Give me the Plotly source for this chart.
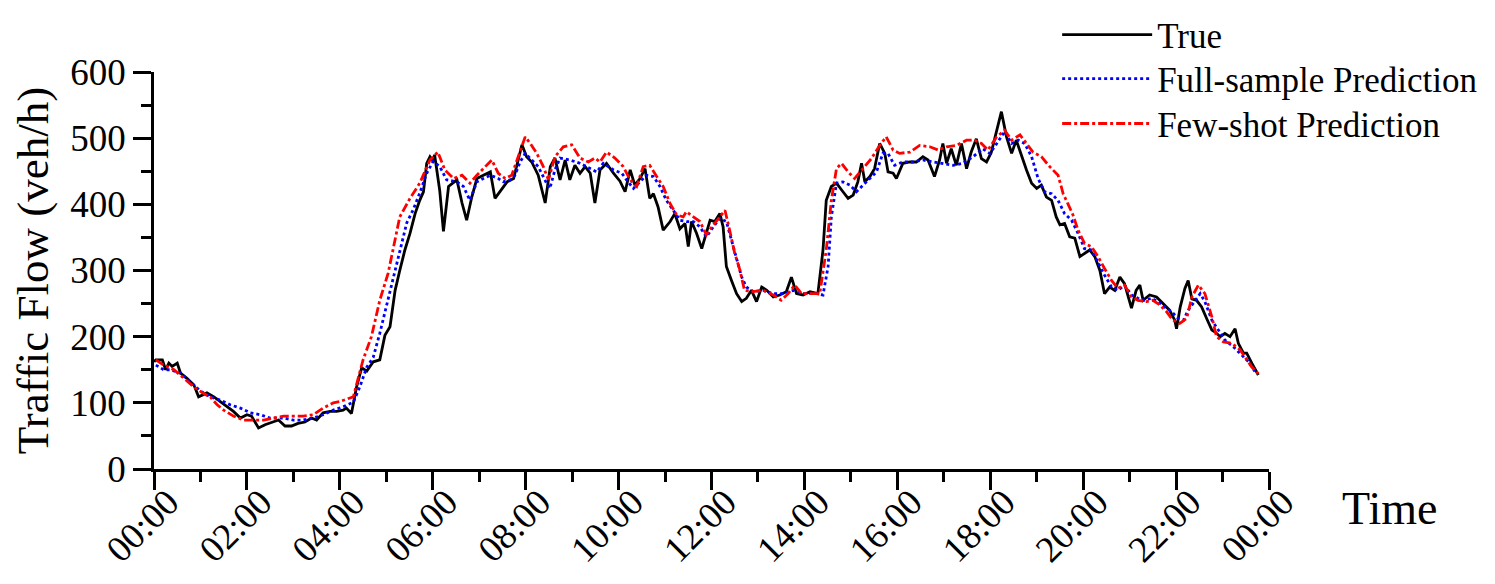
import plotly.graph_objects as go

# time of day in hours, traffic flow in veh/h
true_hour = [0.00, 0.04, 0.18, 0.25, 0.32, 0.39, 0.50, 0.57, 0.71, 0.86, 0.96, 1.14, 1.29, 1.43, 1.57,
             1.71, 1.86, 2.00, 2.10, 2.25, 2.39, 2.54, 2.68, 2.82, 2.96, 3.10, 3.25, 3.39, 3.50, 3.64,
             3.79, 3.93, 4.07, 4.14, 4.25, 4.36, 4.47, 4.58, 4.72, 4.86, 4.97, 5.08, 5.19, 5.29, 5.40,
             5.51, 5.62, 5.72, 5.80, 5.87, 5.94, 6.01, 6.04, 6.15, 6.23, 6.34, 6.52, 6.63, 6.73, 6.84,
             6.95, 7.09, 7.24, 7.34, 7.49, 7.60, 7.74, 7.84, 7.92, 8.02, 8.13, 8.27, 8.42, 8.53, 8.63,
             8.74, 8.85, 8.95, 9.06, 9.17, 9.28, 9.39, 9.49, 9.60, 9.74, 9.89, 10.03, 10.14, 10.25, 10.35,
             10.46, 10.57, 10.67, 10.75, 10.85, 10.96, 11.11, 11.21, 11.32, 11.43, 11.50, 11.57, 11.68, 11.79, 11.89,
             11.97, 12.07, 12.18, 12.25, 12.32, 12.43, 12.54, 12.65, 12.75, 12.86, 12.97, 13.08, 13.19, 13.33, 13.47,
             13.61, 13.72, 13.83, 13.97, 14.12, 14.29, 14.40, 14.47, 14.58, 14.69, 14.83, 14.94, 15.05, 15.15, 15.23,
             15.30, 15.41, 15.51, 15.62, 15.73, 15.80, 15.91, 15.98, 16.12, 16.27, 16.41, 16.55, 16.66, 16.80, 16.91,
             16.98, 17.06, 17.16, 17.27, 17.38, 17.49, 17.59, 17.70, 17.81, 17.92, 18.02, 18.14, 18.24, 18.35, 18.46,
             18.56, 18.67, 18.78, 18.89, 19.00, 19.10, 19.21, 19.32, 19.42, 19.50, 19.60, 19.71, 19.82, 19.93, 20.03,
             20.14, 20.25, 20.36, 20.46, 20.57, 20.68, 20.79, 20.89, 21.04, 21.14, 21.22, 21.29, 21.43, 21.58, 21.72,
             21.86, 21.97, 22.01, 22.09, 22.19, 22.26, 22.34, 22.44, 22.55, 22.66, 22.77, 22.84, 22.95, 23.05, 23.16,
             23.27, 23.34, 23.45, 23.52, 23.63, 23.77]
true_flow = [162, 165, 165, 150, 160, 155, 160, 145, 137, 127, 109, 115, 109, 102, 94,
             87, 77, 82, 80, 62, 67, 71, 74, 65, 65, 69, 71, 77, 74, 85,
             87, 87, 89, 92, 84, 124, 153, 148, 162, 165, 202, 215, 270, 300, 331,
             356, 386, 406, 419, 462, 472, 465, 475, 421, 359, 427, 437, 402, 376, 411,
             439, 444, 449, 409, 424, 434, 439, 467, 490, 472, 464, 444, 402, 457, 470,
             437, 467, 437, 459, 447, 457, 447, 402, 452, 462, 447, 435, 419, 452, 429,
             439, 454, 409, 416, 396, 361, 374, 386, 363, 371, 336, 374, 356, 333, 356,
             376, 374, 386, 366, 306, 285, 265, 253, 258, 270, 253, 275, 270, 260, 263,
             268, 290, 265, 263, 268, 265, 331, 406, 427, 432, 419, 409, 414, 434, 462,
             434, 442, 454, 492, 477, 449, 447, 439, 462, 464, 464, 472, 467, 442, 467,
             492, 462, 484, 459, 492, 454, 479, 499, 469, 464, 478, 512, 540, 502, 477,
             497, 474, 452, 432, 424, 429, 411, 406, 381, 369, 371, 351, 349, 321, 326,
             331, 321, 300, 265, 275, 270, 290, 280, 243, 270, 278, 255, 263, 260, 250,
             240, 225, 212, 245, 273, 285, 257, 255, 245, 227, 210, 207, 200, 205, 200,
             212, 190, 175, 175, 160, 142]

full_hour = [0.04, 0.21, 0.36, 0.57, 0.79, 1.00, 1.21, 1.43, 1.64, 1.86, 2.07, 2.29, 2.50, 2.79, 3.00,
             3.21, 3.43, 3.64, 3.86, 4.07, 4.29, 4.43, 4.58, 4.72, 4.86, 5.00, 5.15, 5.29, 5.44, 5.58,
             5.72, 5.87, 6.01, 6.15, 6.30, 6.52, 6.66, 6.80, 6.95, 7.09, 7.24, 7.41, 7.52, 7.67, 7.77,
             7.88, 7.99, 8.13, 8.27, 8.45, 8.52, 8.63, 8.74, 8.95, 9.17, 9.39, 9.53, 9.67, 9.89, 10.07,
             10.17, 10.32, 10.46, 10.60, 10.75, 10.89, 11.03, 11.18, 11.32, 11.46, 11.61, 11.75, 11.89, 12.04, 12.18,
             12.32, 12.43, 12.54, 12.65, 12.75, 12.90, 13.11, 13.33, 13.54, 13.76, 13.97, 14.19, 14.40, 14.51, 14.58,
             14.69, 14.83, 14.98, 15.12, 15.26, 15.41, 15.55, 15.69, 15.80, 15.94, 16.12, 16.34, 16.55, 16.77, 16.98,
             17.20, 17.41, 17.63, 17.84, 17.99, 18.14, 18.31, 18.46, 18.60, 18.74, 18.89, 19.03, 19.17, 19.32, 19.46,
             19.60, 19.75, 19.89, 20.03, 20.18, 20.32, 20.46, 20.61, 20.75, 20.89, 21.04, 21.18, 21.32, 21.47, 21.61,
             21.75, 21.90, 22.04, 22.16, 22.26, 22.41, 22.52, 22.62, 22.77, 22.91, 23.05, 23.23, 23.41, 23.56, 23.73]
full_flow = [157, 150, 150, 145, 131, 118, 109, 104, 97, 92, 85, 82, 77, 77, 74,
             74, 77, 82, 89, 94, 101, 124, 154, 169, 205, 245, 291, 331, 372, 392,
             417, 447, 465, 457, 437, 434, 427, 406, 434, 439, 444, 439, 434, 437, 444,
             464, 477, 467, 457, 432, 424, 452, 470, 467, 462, 454, 449, 462, 452, 447,
             437, 424, 434, 444, 442, 427, 406, 391, 376, 374, 374, 366, 351, 366, 379,
             374, 346, 316, 290, 275, 268, 270, 265, 265, 270, 265, 266, 263, 306, 381,
             432, 434, 429, 419, 429, 439, 449, 477, 477, 459, 464, 464, 467, 464, 462,
             459, 462, 472, 484, 477, 492, 510, 492, 497, 492, 472, 439, 419, 416, 406,
             386, 376, 356, 333, 331, 311, 293, 275, 270, 278, 263, 258, 255, 258, 253,
             245, 238, 228, 225, 240, 255, 265, 253, 225, 210, 195, 185, 172, 162, 144]

few_hour = [0.04, 0.21, 0.43, 0.64, 0.86, 1.07, 1.21, 1.36, 1.50, 1.71, 1.93, 2.14, 2.36, 2.57, 2.79,
            3.00, 3.21, 3.43, 3.64, 3.86, 4.00, 4.29, 4.50, 4.68, 4.86, 5.04, 5.19, 5.29, 5.51, 5.72,
            5.94, 6.11, 6.26, 6.45, 6.63, 6.80, 6.95, 7.09, 7.27, 7.41, 7.56, 7.70, 7.84, 7.99, 8.10,
            8.24, 8.38, 8.49, 8.63, 8.81, 8.99, 9.17, 9.35, 9.49, 9.60, 9.74, 9.92, 10.10, 10.25, 10.39,
            10.53, 10.67, 10.82, 10.96, 11.11, 11.25, 11.39, 11.46, 11.61, 11.75, 11.89, 12.04, 12.18, 12.29, 12.39,
            12.50, 12.61, 12.71, 12.90, 13.11, 13.33, 13.50, 13.65, 13.79, 13.94, 14.12, 14.33, 14.47, 14.58, 14.69,
            14.80, 14.94, 15.08, 15.26, 15.44, 15.62, 15.76, 15.91, 16.05, 16.27, 16.48, 16.70, 16.88, 17.06, 17.27,
            17.49, 17.66, 17.81, 17.95, 18.14, 18.31, 18.46, 18.64, 18.78, 18.92, 19.10, 19.28, 19.46, 19.57, 19.67,
            19.78, 19.89, 20.03, 20.18, 20.32, 20.46, 20.61, 20.75, 20.89, 21.04, 21.18, 21.36, 21.50, 21.65, 21.79,
            21.93, 22.08, 22.23, 22.34, 22.48, 22.62, 22.77, 22.87, 23.02, 23.20, 23.38, 23.52, 23.63, 23.77]
few_flow = [165, 157, 150, 137, 124, 114, 109, 97, 89, 80, 74, 74, 74, 77, 80,
            80, 80, 82, 92, 100, 102, 109, 165, 200, 255, 296, 346, 381, 409, 432,
            467, 479, 452, 439, 444, 432, 444, 454, 467, 447, 439, 444, 472, 502, 492,
            477, 457, 437, 472, 487, 490, 470, 464, 470, 464, 479, 470, 457, 437, 427,
            457, 459, 442, 427, 401, 384, 381, 389, 381, 374, 354, 369, 381, 391, 361,
            326, 301, 270, 268, 270, 263, 255, 265, 278, 265, 265, 265, 331, 406, 454,
            462, 449, 439, 454, 469, 489, 502, 482, 477, 479, 489, 487, 482, 487, 489,
            497, 497, 492, 482, 502, 512, 497, 505, 492, 479, 472, 457, 444, 416, 401,
            384, 361, 341, 336, 321, 303, 285, 273, 278, 260, 255, 253, 255, 248, 238,
            225, 220, 228, 260, 278, 265, 230, 200, 192, 190, 180, 165, 154, 144]

tick_hours = [0, 2, 4, 6, 8, 10, 12, 14, 16, 18, 20, 22, 24]
tick_labels = ['00:00', '02:00', '04:00', '06:00', '08:00', '10:00', '12:00',
               '14:00', '16:00', '18:00', '20:00', '22:00', '00:00']

FONT = 'Times New Roman, Liberation Serif, serif'

fig = go.Figure()

fig.add_trace(go.Scatter(
    x=true_hour, y=true_flow, name='True', mode='lines', legend='legend',
    line=dict(color='black', width=2.8)
))
fig.add_trace(go.Scatter(
    x=full_hour, y=full_flow, name='Full-sample Prediction', mode='lines', legend='legend2',
    line=dict(color='#0000ff', width=2.8, dash='dot')
))
fig.add_trace(go.Scatter(
    x=few_hour, y=few_flow, name='Few-shot Prediction', mode='lines', legend='legend3',
    line=dict(color='#ff0000', width=2.8, dash='dashdot')
))

axis_common = dict(
    showline=True, linecolor='black', linewidth=2.6,
    ticks='outside', ticklen=18, tickwidth=2.6, tickcolor='black',
    showgrid=False, zeroline=False, mirror=False, automargin=False,
    tickfont=dict(family=FONT, size=37, color='black'),
)

fig.update_xaxes(
    range=[0, 24], tickmode='array', tickvals=tick_hours, ticktext=tick_labels,
    tickangle=-45, ticklabelstandoff=-24, ticklabelshift=14,
    minor=dict(dtick=1, ticks='outside', ticklen=10, tickwidth=2.6, tickcolor='black', showgrid=False),
    **axis_common
)
fig.update_yaxes(
    range=[0, 600], dtick=100,
    minor=dict(dtick=50, ticks='outside', ticklen=10, tickwidth=2.6, tickcolor='black', showgrid=False),
    title=dict(text='Traffic Flow (veh/h)', font=dict(family=FONT, size=45, color='black'), standoff=10),
    **axis_common
)

fig.add_annotation(
    text='Time', xref='paper', yref='paper', x=1.108, y=-0.1, xanchor='center', yanchor='middle',
    showarrow=False, font=dict(family=FONT, size=46, color='black')
)

legend_style = dict(
    x=0.81, xanchor='left', yanchor='top',
    font=dict(family=FONT, size=35, color='black'),
    bgcolor='rgba(0,0,0,0)', itemwidth=90,
)

# page body adds 8px around the figure, so the figure is drawn 8px smaller
fig.update_layout(
    width=1487, height=576,
    paper_bgcolor='white', plot_bgcolor='white',
    margin=dict(l=146, r=226, t=64, b=115, autoexpand=False),
    font=dict(family=FONT, color='black'),
    showlegend=True,
    legend=dict(y=1.168, **legend_style),
    legend2=dict(y=1.057, **legend_style),
    legend3=dict(y=0.944, **legend_style),
)

fig.write_html('out.html')
